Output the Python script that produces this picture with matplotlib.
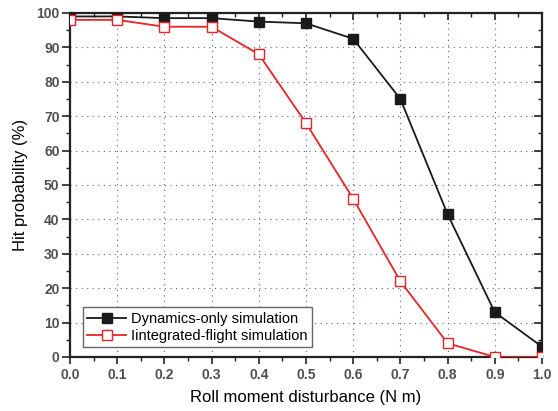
import numpy as np
import matplotlib
matplotlib.use("Agg")
import matplotlib.pyplot as plt
from matplotlib.ticker import MultipleLocator

plt.rcParams['font.family'] = ['Liberation Sans', 'DejaVu Sans']

x = [0.0, 0.1, 0.2, 0.3, 0.4, 0.5, 0.6, 0.7, 0.8, 0.9, 1.0]
dyn = [99, 99, 98.5, 98.5, 97.5, 97, 92.5, 75, 41.5, 13, 3]
integ = [98, 98, 96, 96, 88, 68, 46, 22, 4, 0, 0]

fig = plt.figure(figsize=(5.58, 4.11), dpi=100)
ax = fig.add_axes([0.1254, 0.1314, 0.8459, 0.837])

ax.plot(x, dyn, '-s', color='#1a1a1a', lw=1.3, ms=7.5, mfc='#1a1a1a', mec='#1a1a1a',
        label='Dynamics-only simulation', zorder=3)
ax.plot(x, integ, '-s', color='#ee2222', lw=1.3, ms=7, mfc='white', mec='#ee2222',
        label='Iintegrated-flight simulation', zorder=3)

ax.set_xlim(0, 1.0)
ax.set_ylim(0, 100)
ax.xaxis.set_major_locator(MultipleLocator(0.1))
ax.xaxis.set_minor_locator(MultipleLocator(0.05))
ax.yaxis.set_major_locator(MultipleLocator(10))
ax.yaxis.set_minor_locator(MultipleLocator(5))
ax.xaxis.set_major_formatter(matplotlib.ticker.FormatStrFormatter('%.1f'))

# dotted blue grid at major ticks
ax.grid(True, which='major', color='#5060b0', linestyle=(0, (1, 4)), lw=0.8)

for s in ax.spines.values():
    s.set_linewidth(1.6)
    s.set_color('#222222')

ax.tick_params(axis='both', which='both', bottom=True, left=True, top=True, right=True,
               labelsize=10, labelcolor='#505050', color='#222222')
ax.tick_params(axis='x', which='major', length=5, width=1.2, pad=3)
ax.tick_params(axis='x', which='minor', length=3, width=1.0)
ax.tick_params(axis='y', which='major', length=6, width=1.2, pad=1.5)
ax.tick_params(axis='y', which='minor', length=3, width=1.0)
# top/right ticks point inward
for t in ax.xaxis.get_major_ticks() + ax.xaxis.get_minor_ticks():
    t.tick2line.set_marker(matplotlib.lines.TICKDOWN)
for t in ax.yaxis.get_major_ticks() + ax.yaxis.get_minor_ticks():
    t.tick2line.set_marker(matplotlib.lines.TICKLEFT)
for lab in ax.get_xticklabels() + ax.get_yticklabels():
    lab.set_fontweight('bold')

ax.set_xlabel('Roll moment disturbance (N m)', fontsize=12, labelpad=6)
ax.set_ylabel('Hit probability (%)', fontsize=12, labelpad=6)

leg = ax.legend(loc='lower left', bbox_to_anchor=(0.027, 0.029), fontsize=10.5,
                fancybox=False, edgecolor='#666666', framealpha=1,
                handlelength=2.7, borderpad=0.3, labelspacing=0.2, handletextpad=0.3,
                borderaxespad=0)
leg.get_frame().set_linewidth(1.0)

fig.savefig('out.png', dpi=100)
